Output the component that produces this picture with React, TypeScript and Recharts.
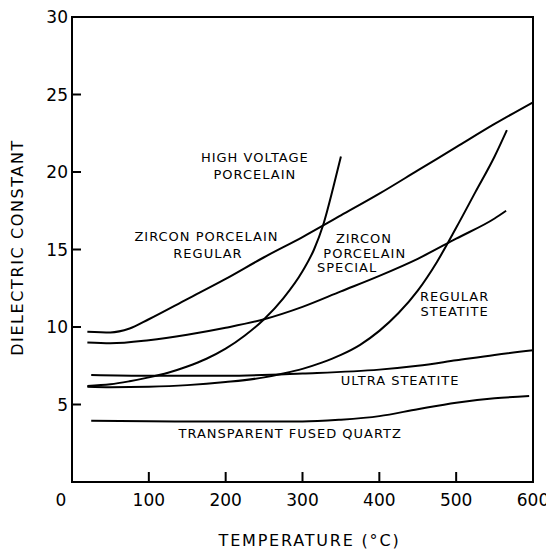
import { LineChart, Line, XAxis, YAxis, ReferenceArea, ReferenceDot } from "recharts";

// axis ticks
const xTicks = [0, 100, 200, 300, 400, 500, 600];
const yTicks = [0, 5, 10, 15, 20, 25, 30];

// dielectric constant (k) vs temperature (t, °C)
const zirconRegular = [
  { t: 20, k: 9.7 }, { t: 50, k: 9.65 }, { t: 75, k: 9.9 }, { t: 100, k: 10.5 },
  { t: 150, k: 11.8 }, { t: 200, k: 13.1 }, { t: 250, k: 14.5 }, { t: 300, k: 15.8 },
  { t: 350, k: 17.2 }, { t: 400, k: 18.6 }, { t: 450, k: 20.1 }, { t: 500, k: 21.6 },
  { t: 550, k: 23.1 }, { t: 600, k: 24.5 },
];
const zirconSpecial = [
  { t: 20, k: 9.0 }, { t: 50, k: 8.95 }, { t: 100, k: 9.15 }, { t: 150, k: 9.5 },
  { t: 200, k: 9.95 }, { t: 250, k: 10.5 }, { t: 300, k: 11.3 }, { t: 350, k: 12.3 },
  { t: 400, k: 13.3 }, { t: 450, k: 14.4 }, { t: 500, k: 15.7 }, { t: 550, k: 17.0 },
  { t: 565, k: 17.5 },
];
const highVoltage = [
  { t: 20, k: 6.2 }, { t: 50, k: 6.3 }, { t: 75, k: 6.5 }, { t: 100, k: 6.75 },
  { t: 125, k: 7.05 }, { t: 150, k: 7.45 }, { t: 175, k: 7.95 }, { t: 200, k: 8.6 },
  { t: 225, k: 9.45 }, { t: 250, k: 10.5 }, { t: 275, k: 11.85 }, { t: 300, k: 13.6 },
  { t: 315, k: 15.0 }, { t: 327, k: 16.6 }, { t: 340, k: 19.0 }, { t: 350, k: 21.0 },
];
const regularSteatite = [
  { t: 20, k: 6.15 }, { t: 50, k: 6.12 }, { t: 100, k: 6.15 }, { t: 150, k: 6.25 },
  { t: 200, k: 6.45 }, { t: 250, k: 6.75 }, { t: 275, k: 7.0 }, { t: 300, k: 7.3 },
  { t: 325, k: 7.7 }, { t: 350, k: 8.2 }, { t: 375, k: 8.85 }, { t: 400, k: 9.75 },
  { t: 425, k: 10.9 }, { t: 450, k: 12.35 }, { t: 475, k: 14.2 }, { t: 500, k: 16.4 },
  { t: 525, k: 18.7 }, { t: 550, k: 21.0 }, { t: 566, k: 22.7 },
];
const ultraSteatite = [
  { t: 25, k: 6.9 }, { t: 100, k: 6.85 }, { t: 200, k: 6.85 }, { t: 300, k: 7.0 },
  { t: 400, k: 7.25 }, { t: 450, k: 7.5 }, { t: 500, k: 7.85 }, { t: 550, k: 8.2 },
  { t: 600, k: 8.5 },
];
const fusedQuartz = [
  { t: 25, k: 3.95 }, { t: 100, k: 3.92 }, { t: 200, k: 3.9 }, { t: 300, k: 3.9 },
  { t: 350, k: 4.02 }, { t: 400, k: 4.25 }, { t: 450, k: 4.7 }, { t: 500, k: 5.12 },
  { t: 550, k: 5.4 }, { t: 595, k: 5.55 },
];

const curves = [zirconRegular, zirconSpecial, highVoltage, regularSteatite, ultraSteatite, fusedQuartz];

// curve names, one text line each, placed in data units
const notes = [
  { text: "HIGH VOLTAGE", t: 238, k: 20.94 },
  { text: "PORCELAIN", t: 238, k: 19.87 },
  { text: "ZIRCON PORCELAIN", t: 175, k: 15.84 },
  { text: "REGULAR", t: 177, k: 14.77 },
  { text: "ZIRCON", t: 380, k: 15.68 },
  { text: "PORCELAIN", t: 381, k: 14.71 },
  { text: "SPECIAL", t: 358, k: 13.81 },
  { text: "REGULAR", t: 498, k: 12.0 },
  { text: "STEATITE", t: 498, k: 11.03 },
  { text: "ULTRA STEATITE", t: 427, k: 6.52 },
  { text: "TRANSPARENT FUSED QUARTZ", t: 284, k: 3.16 },
];

const FONT = "'DejaVu Sans', sans-serif";

function XTick({ x, y, payload }: any) {
  const v = payload.value;
  return (
    <g>
      {v > 0 && v < 600 && <line x1={x} y1={y} x2={x} y2={y - 10} stroke="#000" strokeWidth={2} />}
      <text x={v === 0 ? x - 11 : x} y={y + 18} textAnchor="middle" dominantBaseline="central"
        fontSize={17} fontFamily={FONT} fill="#000">{v}</text>
    </g>
  );
}

function YTick({ x, y, payload }: any) {
  const v = payload.value;
  if (v === 0) return <g />;
  return (
    <g>
      <line x1={x} y1={y} x2={x + 9} y2={y} stroke="#000" strokeWidth={2} />
      <text x={x - 4} y={y} textAnchor="end" dominantBaseline="central"
        fontSize={17} fontFamily={FONT} fill="#000">{v}</text>
    </g>
  );
}

export default function App() {
  return (
    <LineChart width={546} height={542} margin={{ top: 9, right: 21, bottom: 0, left: 0 }}>
      <XAxis type="number" dataKey="t" domain={[0, 600]} ticks={xTicks} allowDataOverflow
        height={68} tickSize={0} tickMargin={0} tickLine={false} tick={<XTick />}
        axisLine={{ stroke: "#000", strokeWidth: 2 }}
        label={{
          content: ({ viewBox }: any) => (
            <text x={viewBox.x + viewBox.width / 2 + 7} y={viewBox.y + 58} textAnchor="middle"
              dominantBaseline="central" fontSize={16} letterSpacing={1.8} fontFamily={FONT} fill="#000">
              TEMPERATURE (°C)
            </text>
          ),
        }} />
      <YAxis type="number" domain={[0, 30]} ticks={yTicks} allowDataOverflow
        width={64} tickSize={0} tickMargin={0} tickLine={false} tick={<YTick />}
        axisLine={{ stroke: "#000", strokeWidth: 2 }}
        label={{
          content: ({ viewBox }: any) => {
            const cx = viewBox.x + 9;
            const cy = viewBox.y + viewBox.height / 2 - 2;
            return (
              <text x={cx} y={cy} transform={`rotate(-90 ${cx} ${cy})`} textAnchor="middle"
                dominantBaseline="central" fontSize={16} letterSpacing={1.6} fontFamily={FONT} fill="#000">
                DIELECTRIC CONSTANT
              </text>
            );
          },
        }} />
      <ReferenceArea x1={0} x2={600} y1={0} y2={30} fill="none" fillOpacity={0} stroke="#000" strokeWidth={2} />
      {curves.map((d, i) => (
        <Line key={i} data={d} dataKey="k" type="monotone" stroke="#000" strokeWidth={2}
          dot={false} activeDot={false} isAnimationActive={false} />
      ))}
      {notes.map((n, i) => (
        <ReferenceDot key={"n" + i} x={n.t} y={n.k} r={0}
          shape={(p: any) => (
            <text x={p.cx} y={p.cy} textAnchor="middle" dominantBaseline="central"
              fontSize={13} letterSpacing={1} fontFamily={FONT} fill="#000">{n.text}</text>
          )} />
      ))}
    </LineChart>
  );
}
